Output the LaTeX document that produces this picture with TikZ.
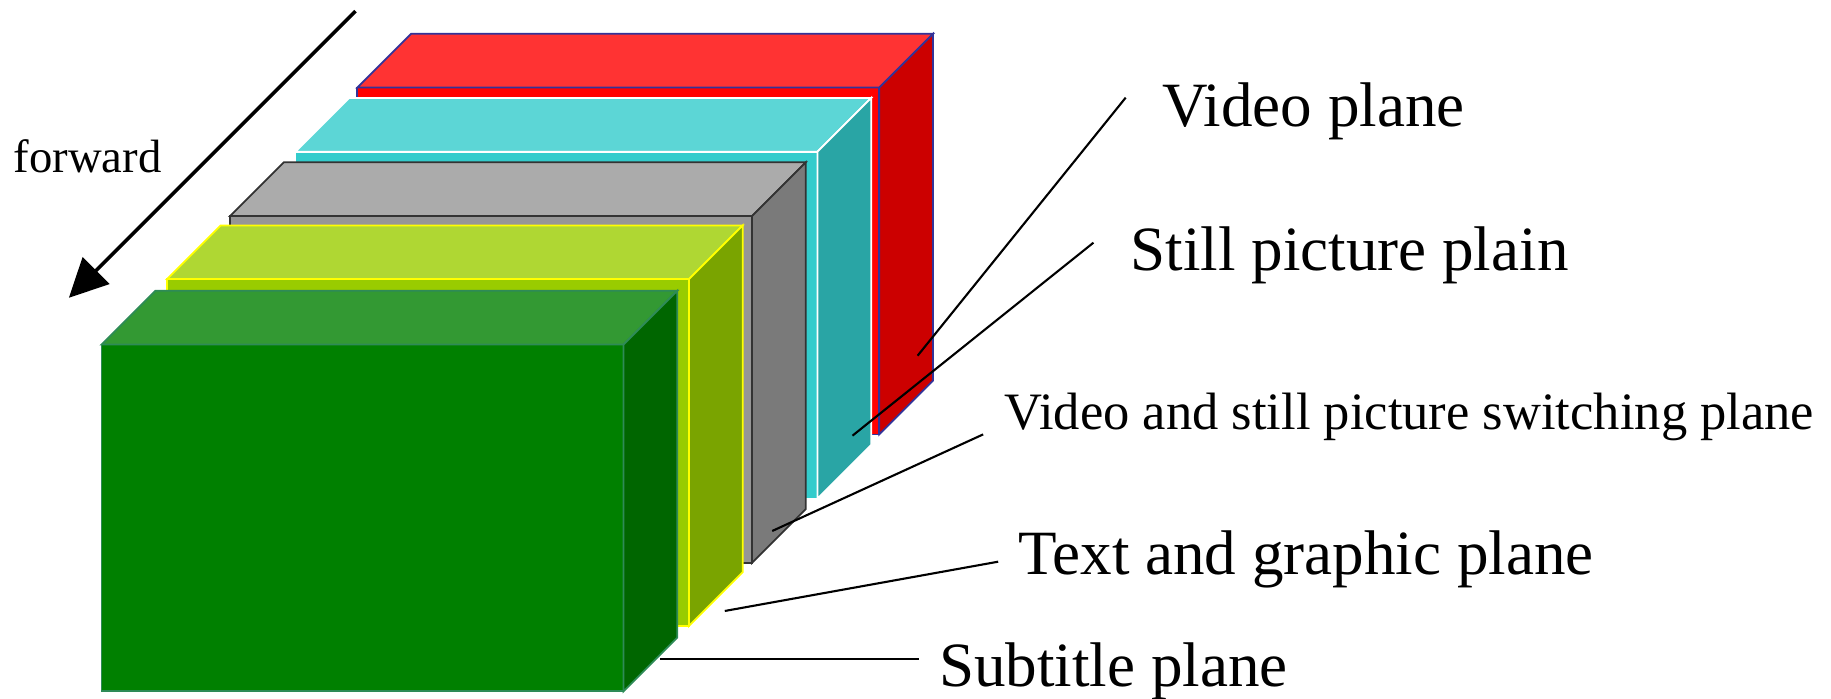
\documentclass[tikz,border=0pt]{standalone}
\usepackage{fontspec}
\setmainfont{Liberation Serif}
\usetikzlibrary{arrows.meta}

% colours of the five planes: front face, top face, side face, outline
\definecolor{redF}{HTML}{FF0000}\definecolor{redT}{HTML}{FF3333}\definecolor{redS}{HTML}{CC0000}\definecolor{redB}{HTML}{333399}
\definecolor{cyaF}{HTML}{33CCCC}\definecolor{cyaT}{HTML}{5CD6D6}\definecolor{cyaS}{HTML}{29A5A5}\definecolor{cyaB}{HTML}{FFFFFF}
\definecolor{gryF}{HTML}{969696}\definecolor{gryT}{HTML}{ABABAB}\definecolor{gryS}{HTML}{7A7A7A}\definecolor{gryB}{HTML}{333333}
\definecolor{ylwF}{HTML}{99CC00}\definecolor{ylwT}{HTML}{AFD733}\definecolor{ylwS}{HTML}{7AA400}\definecolor{ylwB}{HTML}{FFFF00}
\definecolor{grnF}{HTML}{008000}\definecolor{grnT}{HTML}{339933}\definecolor{grnS}{HTML}{006600}\definecolor{grnB}{HTML}{2E8B57}

% one plane drawn as a flat box: #1,#2 = top-left of the front face
\newcommand{\drawplane}[6]{%
  \begin{scope}[shift={(#1,#2)}, line width=1.5pt, line join=miter]
    \filldraw[fill=#3, draw=#6] (0,0) rectangle (447,297);
    \filldraw[fill=#4, draw=#6] (0,0) -- (46,-46) -- (493,-46) -- (447,0) -- cycle;
    \filldraw[fill=#5, draw=#6] (447,0) -- (493,-46) -- (493,251) -- (447,297) -- cycle;
  \end{scope}}

\tikzset{
  biglabel/.style={anchor=base west, inner sep=0pt, font=\fontsize{54}{60}\selectfont},
  midlabel/.style={anchor=base west, inner sep=0pt, font=\fontsize{45}{50}\selectfont},
  smalllabel/.style={anchor=base west, inner sep=0pt, font=\fontsize{40}{46}\selectfont},
  leader/.style={line width=1.8pt, black},
}

\begin{document}
\begin{tikzpicture}[x=1pt, y=-1pt]
\useasboundingbox (0,0) rectangle (1568,598);

% planes, from the back to the front
\drawplane{306}{75}{redF}{redT}{redS}{redB}
\drawplane{253}{130}{cyaF}{cyaT}{cyaS}{cyaB}
\drawplane{197}{185}{gryF}{gryT}{gryS}{gryB}
\drawplane{143}{239}{ylwF}{ylwT}{ylwS}{ylwB}
\drawplane{87}{295}{grnF}{grnT}{grnS}{grnB}

% viewing direction
\coordinate (fwdTail) at (304.5,9.5);
\coordinate (fwdTip) at (59,255);
\draw[line width=3pt, -{Triangle[length=33pt, width=32pt]}] (fwdTail) -- (fwdTip);
\node[smalllabel] (forward) at (11.5,147.5) {forward};

% labels
\node[biglabel] (video) at (995,108.5) {Video plane};
\node[biglabel] (still) at (968,231.8) {Still picture plain};
\node[midlabel] (switch) at (860,368) {Video and still picture switching plane};
\node[biglabel] (text) at (872,491.8) {Text and graphic plane};
\node[biglabel] (subtitle) at (804,587.5) {Subtitle plane};

% leader lines
\coordinate (videoA) at (964,83.6);   \coordinate (videoB) at (785.8,304.6);
\coordinate (stillA) at (936.4,207.8); \coordinate (stillB) at (730,373.1);
\coordinate (switchA) at (841.9,372);  \coordinate (switchB) at (661.3,454.7);
\coordinate (textA) at (854.8,481);    \coordinate (textB) at (620.7,523.2);
\coordinate (subA) at (786.6,564.4);   \coordinate (subB) at (564.8,564.4);
\draw[leader] (videoA) -- (videoB);
\draw[leader] (stillA) -- (stillB);
\draw[leader] (switchA) -- (switchB);
\draw[leader] (textA) -- (textB);
\draw[leader] (subA) -- (subB);
\end{tikzpicture}
\end{document}
